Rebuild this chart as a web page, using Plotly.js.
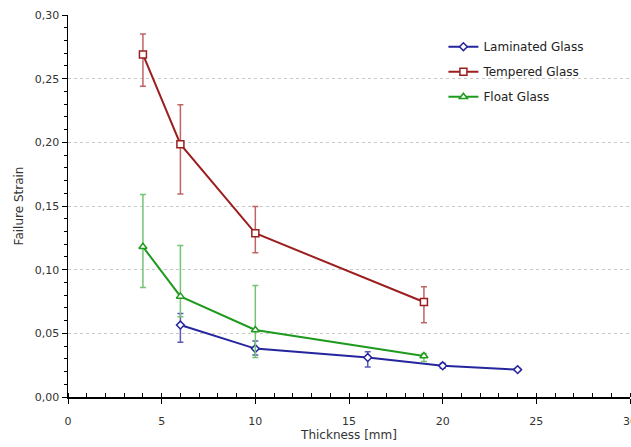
<!DOCTYPE html>
<html>
<head>
<meta charset="utf-8">
<script src="https://cdn.plot.ly/plotly-3.0.1.min.js"></script>
<style>
html,body{margin:0;padding:0;background:#fff;}
#chart{width:631px;height:447px;}
</style>
</head>
<body>
<div id="chart"></div>
<script>
// Data
const lamX = [6, 10, 16, 20, 24];
const lamY = [0.0565, 0.038, 0.031, 0.0245, 0.0215];
const lamErrPlus = [0.0090, 0.006, 0.0045, 0.002, 0.001];
const lamErrMinus = [0.0135, 0.005, 0.0075, 0.002, 0.001];

const temX = [4, 6, 10, 19];
const temY = [0.269, 0.1985, 0.1286, 0.0746];
const temErrPlus = [0.016, 0.031, 0.021, 0.012];
const temErrMinus = [0.025, 0.039, 0.0153, 0.0162];

const floX = [4, 6, 10, 19];
const floY = [0.118, 0.079, 0.0526, 0.0322];
const floErrPlus = [0.041, 0.040, 0.035, 0.002];
const floErrMinus = [0.032, 0.016, 0.0216, 0.0044];

const seriesNames = ["Laminated Glass", "Tempered Glass", "Float Glass"];

const xTitle = "Thickness [mm]";
const yTitle = "Failure Strain";

function mk(name, x, y, ep, em, color, ecolor, symbol, size) {
  return {
    type: 'scatter', mode: 'lines+markers', name: name, legendgroup: name,
    x: x, y: y,
    line: {color: color, width: 2},
    marker: {symbol: symbol, size: size, color: '#ffffff', line: {color: color, width: 1.5}},
    error_y: {type: 'data', symmetric: false, array: ep, arrayminus: em,
              color: ecolor, thickness: 1.5, width: 3},
    cliponaxis: false
  };
}

const traces = [
  mk(seriesNames[0], lamX, lamY, lamErrPlus, lamErrMinus, '#25259e', '#5a5ab4', 'diamond', 6),
  mk(seriesNames[1], temX, temY, temErrPlus, temErrMinus, '#9b1f1f', '#c06464', 'square', 7),
  mk(seriesNames[2], floX, floY, floErrPlus, floErrMinus, '#1e9a1e', '#74c474', 'triangle-up', 7)
];

const layout = {
  width: 631, height: 447,
  margin: {l: 68, r: 1, t: 15, b: 50},
  paper_bgcolor: '#ffffff', plot_bgcolor: '#ffffff',
  font: {family: 'DejaVu Sans, Verdana, sans-serif', size: 11, color: '#333333'},
  showlegend: true,
  legend: {x: 0.668, y: 0.955, xanchor: 'left', yanchor: 'top',
           bgcolor: 'rgba(255,255,255,0)', font: {size: 12, color: '#222222'},
           itemwidth: 30, tracegroupgap: 6},
  xaxis: {
    range: [0, 30], tickvals: [0, 5, 10, 15, 20, 25, 30],
    ticktext: ['0', '5', '10', '15', '20', '25', '30'],
    ticklabeloverflow: 'allow',
    showline: true, linecolor: '#000000', linewidth: 1.5,
    ticks: 'outside', ticklen: 5, tickcolor: '#000000', tickwidth: 1,
    ticklabelstandoff: 8,
    showgrid: false, zeroline: false,
    minor: {dtick: 1, ticks: 'inside', ticklen: 4, tickcolor: '#000000', showgrid: false},
    title: {text: xTitle, font: {size: 12, color: '#333333'}, standoff: 2},
    tickfont: {size: 11, color: '#333333'}
  },
  yaxis: {
    range: [0, 0.30], dtick: 0.05, tickformat: '.2f',
    showline: true, linecolor: '#000000', linewidth: 1.5,
    ticks: 'outside', ticklen: 5, tickcolor: '#000000', tickwidth: 1,
    showgrid: true, gridcolor: '#c8c8c8', griddash: 'dot', gridwidth: 1,
    zeroline: false,
    minor: {dtick: 0.01, ticks: 'outside', ticklen: 3, tickcolor: '#000000', showgrid: false},
    title: {text: yTitle, font: {size: 12, color: '#333333'}, standoff: 8},
    tickfont: {size: 11, color: '#333333'}
  },
  separators: ',.'
};

Plotly.newPlot('chart', traces, layout, {staticPlot: true, displayModeBar: false});
</script>
</body>
</html>
